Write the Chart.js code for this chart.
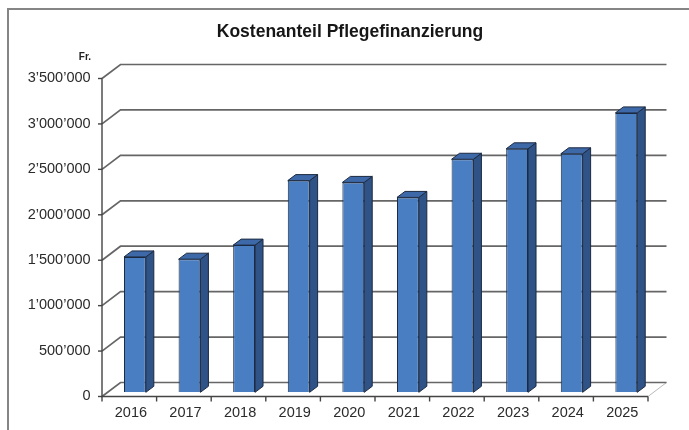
<!DOCTYPE html>
<html>
<head>
<meta charset="utf-8">
<script src="https://cdn.jsdelivr.net/npm/chart.js@4.4.1/dist/chart.umd.min.js"></script>
<style>
  body { margin: 0; background: #fff; }
  #wrap { width: 689px; height: 430px; position: relative; }
</style>
</head>
<body>
<div id="wrap"><canvas id="chart"></canvas></div>
<script>
// Daten
const jahre = ['2016', '2017', '2018', '2019', '2020', '2021', '2022', '2023', '2024', '2025'];
const kosten = [1490000, 1465000, 1620000, 2330000, 2310000, 2145000, 2565000, 2680000, 2625000, 3075000];
const yMax = 3500000;
const yStep = 500000;
const titel = 'Kostenanteil Pflegefinanzierung';
const einheit = 'Fr.';

// 3D-Versatz relativ zur Ebene der Balken-Vorderseiten
const vorne = { dx: -5.6, dy: 4.2 };   // vordere Achsenebene
const hinten = { dx: 12.9, dy: -9.8 }; // Rückwand
const tiefe = { dx: 8, dy: -6 };       // Tiefe der Balken

function formatZahl(v) {
    return String(v).replace(/\B(?=(\d{3})+(?!\d))/g, '\u2019');
}

const rahmen3d = {
    id: 'rahmen3d',
    beforeDraw(chart) {
        const ctx = chart.ctx;
        ctx.save();
        // Rahmen oben / links
        ctx.strokeStyle = '#858585';
        ctx.lineWidth = 2;
        ctx.beginPath();
        ctx.moveTo(8, 431);
        ctx.lineTo(8, 9);
        ctx.lineTo(690, 9);
        ctx.stroke();
        ctx.restore();
    },
    beforeDatasetsDraw(chart) {
        const ctx = chart.ctx;
        const yScale = chart.scales.y;
        const xScale = chart.scales.x;
        const area = chart.chartArea;
        const links = area.left + vorne.dx;
        const rechts = area.right + vorne.dx;
        ctx.save();

        // Boden rechts (hellgrau)
        const y0 = yScale.getPixelForValue(0);
        ctx.strokeStyle = '#b8b8b8';
        ctx.lineWidth = 1;
        ctx.beginPath();
        ctx.moveTo(rechts, y0 + vorne.dy);
        ctx.lineTo(area.right + hinten.dx, y0 + hinten.dy);
        ctx.stroke();

        // Gitterlinien an der Rückwand + Diagonalen
        ctx.strokeStyle = '#666';
        ctx.lineWidth = 1.7;
        yScale.ticks.forEach(t => {
            const y = yScale.getPixelForValue(t.value);
            ctx.beginPath();
            ctx.moveTo(links, y + vorne.dy);
            ctx.lineTo(area.left + hinten.dx, y + hinten.dy);
            ctx.lineTo(area.right + hinten.dx, y + hinten.dy);
            ctx.stroke();
        });

        // vordere Achsen
        ctx.strokeStyle = '#444';
        ctx.lineWidth = 1.4;
        ctx.beginPath();
        ctx.moveTo(links, yScale.getPixelForValue(yMax) + vorne.dy);
        ctx.lineTo(links, y0 + vorne.dy);
        ctx.lineTo(rechts, y0 + vorne.dy);
        ctx.stroke();

        // Teilstriche y
        yScale.ticks.forEach(t => {
            const y = yScale.getPixelForValue(t.value) + vorne.dy;
            ctx.beginPath();
            ctx.moveTo(links - 4, y);
            ctx.lineTo(links, y);
            ctx.stroke();
        });
        // Teilstriche x (zwischen Kategorien)
        for (let i = 0; i <= jahre.length; i++) {
            const x = i < jahre.length
                ? xScale.getPixelForValue(i) - xScale.width / jahre.length / 2 + vorne.dx
                : rechts;
            ctx.beginPath();
            ctx.moveTo(x, y0 + vorne.dy);
            ctx.lineTo(x, y0 + vorne.dy + 5);
            ctx.stroke();
        }
        ctx.restore();
    },
    afterDatasetsDraw(chart) {
        const ctx = chart.ctx;
        const meta = chart.getDatasetMeta(0);
        ctx.save();
        ctx.lineWidth = 1;
        ctx.strokeStyle = '#1c2a40';
        ctx.lineJoin = 'round';
        meta.data.forEach(bar => {
            const p = bar.getProps(['x', 'y', 'base', 'width'], true);
            const l = p.x - p.width / 2;
            const r = p.x + p.width / 2;
            // Seite
            ctx.fillStyle = '#2f5287';
            ctx.beginPath();
            ctx.moveTo(r, p.y);
            ctx.lineTo(r + tiefe.dx, p.y + tiefe.dy);
            ctx.lineTo(r + tiefe.dx, p.base + tiefe.dy);
            ctx.lineTo(r, p.base);
            ctx.closePath();
            ctx.fill();
            ctx.stroke();
            // Deckel
            ctx.fillStyle = '#3e69a8';
            ctx.beginPath();
            ctx.moveTo(l, p.y);
            ctx.lineTo(l + tiefe.dx, p.y + tiefe.dy);
            ctx.lineTo(r + tiefe.dx, p.y + tiefe.dy);
            ctx.lineTo(r, p.y);
            ctx.closePath();
            ctx.fill();
            ctx.stroke();
        });
        ctx.restore();
    },
    afterDraw(chart) {
        const ctx = chart.ctx;
        const yScale = chart.scales.y;
        ctx.save();
        ctx.fillStyle = '#222';
        ctx.font = 'bold 10px "Liberation Sans", Arial, sans-serif';
        ctx.textAlign = 'right';
        ctx.textBaseline = 'middle';
        ctx.fillText(einheit, 91, yScale.getPixelForValue(yMax) + vorne.dy - 21);
        ctx.restore();
    }
};

const ctx = document.getElementById('chart').getContext('2d');
new Chart(ctx, {
    type: 'bar',
    data: {
        labels: jahre,
        datasets: [{
            data: kosten,
            backgroundColor: '#4a7ec2',
            borderColor: '#1c2a40',
            borderWidth: 1,
            categoryPercentage: 1,
            barPercentage: 0.4
        }]
    },
    options: {
        responsive: true,
        maintainAspectRatio: false,
        animation: false,
        layout: { padding: { left: 11, right: 0, top: 0, bottom: 0 } },
        plugins: {
            legend: { display: false },
            tooltip: { enabled: false },
            title: {
                display: true,
                text: titel,
                color: '#161616',
                font: { family: '"Liberation Sans", Arial, sans-serif', size: 17.5, weight: 'bold', lineHeight: 1.2 },
                padding: { top: 21.5, bottom: 31.8 }
            }
        },
        scales: {
            x: {
                grid: { display: false, drawTicks: false },
                border: { display: false },
                ticks: {
                    color: '#2b2b2b',
                    font: { family: '"Liberation Sans", Arial, sans-serif', size: 14.5 },
                    padding: 12,
                    labelOffset: -4,
                    maxRotation: 0
                },
                afterFit(scale) { scale.height = 37.7; }
            },
            y: {
                min: 0,
                max: yMax,
                grid: { display: false, drawTicks: false },
                border: { display: false },
                ticks: {
                    stepSize: yStep,
                    color: '#2b2b2b',
                    font: { family: '"Liberation Sans", Arial, sans-serif', size: 14.5 },
                    padding: 17,
                    labelOffset: 4,
                    callback: v => formatZahl(v)
                },
                afterFit(scale) { scale.width = 96.6; }
            },
            // leerer Rand rechts (Platz für Rückwand)
            rand: {
                position: 'right',
                grid: { display: false, drawTicks: false },
                border: { display: false },
                ticks: { display: false },
                afterFit(scale) { scale.width = 35.4; }
            }
        }
    },
    plugins: [rahmen3d]
});
</script>
</body>
</html>
